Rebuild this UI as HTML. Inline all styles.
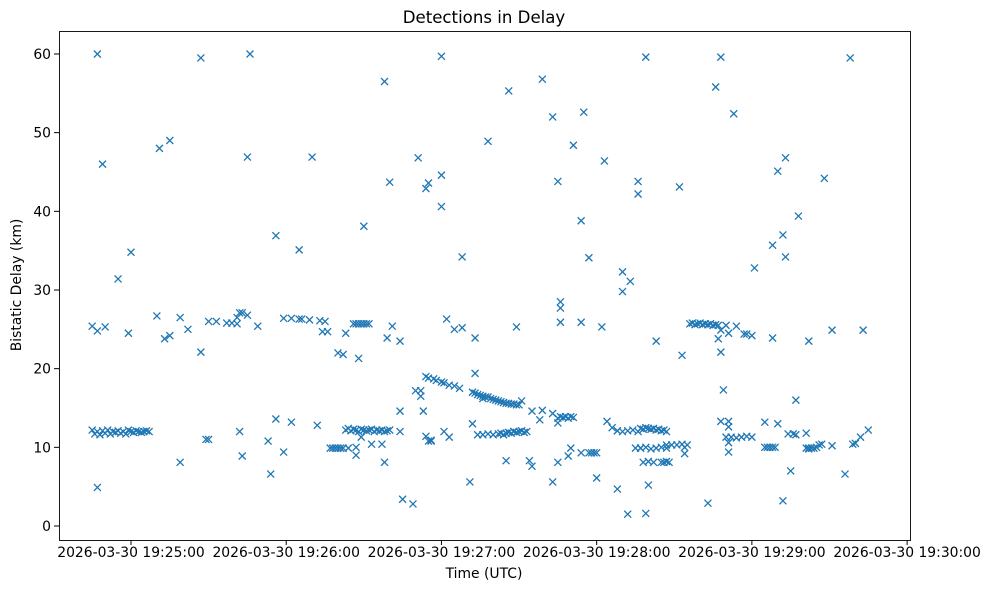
<!DOCTYPE html>
<html><head><meta charset="utf-8"><style>
body{margin:0;background:#fff;}
svg{display:block;font-family:"DejaVu Sans","Liberation Sans",sans-serif;}
</style></head><body>
<svg id="chart" width="989" height="590" viewBox="0 0 989 590" xmlns="http://www.w3.org/2000/svg">
<rect width="989" height="590" fill="#fff"/>
<text x="484" y="23" font-size="16.6" text-anchor="middle">Detections in Delay</text>
<g id="points"></g>
<g id="xaxis"></g>
<g id="yaxis"></g>
<rect x="59.5" y="31.5" width="851" height="509" fill="none" stroke="#000" stroke-width="0.9"/>
<text x="484" y="578" font-size="13.9" text-anchor="middle">Time (UTC)</text>
<text transform="translate(21,285) rotate(-90)" font-size="13.9" text-anchor="middle">Bistatic Delay (km)</text>
</svg>
<script>
// seconds relative to 19:25:00, delay km
const times = [-13,-11,-13,-15,-10,-13,-5,0,-1,
-15,-14,-13,-12,-11,-10,-9,-8,-7,-6,-5,-4,-3,-2,-1,0,1,2,3,4,5,6,7,
10,11,15,13,15,19,22,19,27,27,29,30,30,33,37,39,41,42,43,45,41,42,43,45,46,49,53,54,56,56,59,59,62,62,65,65,66,69,70,72,73,74,75,76,
77,78,79,80,81,82,84,80,82,83,88,86,87,88,89,90,91,92,
83,84,85,86,87,88,89,90,91,92,93,94,95,96,97,98,99,100,
87,87,89,93,97,98,98,101,99,100,90,104,104,104,105,111,109,110,
112,114,115,117,118,120,121,123,125,127,112,114,115,116,116,113,114,115,120,120,120,122,121,123,125,128,128,
131,132,133,134,135,136,137,138,139,140,141,142,143,144,145,146,147,148,149,150,151,136,138,133,133,
132,134,136,138,140,142,143,144,145,146,147,148,149,150,151,152,153,148,149,146,145,154,155,155,159,158,159,163,163,
165,166,167,168,169,170,171,165,165,166,166,166,163,165,169,170,171,174,174,175,177,177,178,179,180,174,180,182,183,184,
186,188,190,192,194,196,197,198,199,200,201,202,203,204,205,206,207,188,188,190,190,192,196,196,199,199,200,203,
193,195,197,199,201,203,205,207,197,198,200,202,205,206,207,208,207,209,211,213,215,212,213,214,214,
216,217,218,219,220,221,222,223,224,225,226,227,223,226,228,228,227,228,230,231,234,237,238,233,229,228,231,231,
230,232,234,236,238,240,231,231,241,240,248,250,245,245,246,247,248,249,250,248,252,252,253,253,255,257,254,256,257,258,262,261,262,
261,262,263,264,265,266,267,268,271,271,276,278,279,280,282,283,285,286];
const delays = [60,46,24.8,25.4,25.3,4.9,31.4,34.8,24.5,
12.2,11.7,12.0,11.6,12.1,11.8,12.2,11.7,12.0,11.9,12.1,11.8,12.0,11.7,12.2,12.0,11.9,12.1,12.0,11.9,12.0,12.1,12.0,
26.7,48,49,23.8,24.2,26.5,25,8.1,59.5,22.1,11,11,26,26,25.8,25.8,26.5,27.1,27.1,26.8,25.7,12,8.9,46.9,60,25.4,10.8,6.6,13.6,36.9,26.4,9.4,26.4,13.2,35.1,26.3,26.3,26.2,46.9,12.8,26.1,24.7,26,24.7,
9.9,9.9,9.9,9.9,9.9,9.9,9.9,22,21.8,24.5,21.3,25.7,25.7,25.7,25.7,25.7,25.7,25.7,
12.2,12.4,12.1,12.3,12.2,12.0,12.3,12.2,12.1,12.2,12.3,12.0,12.2,12.1,12.2,12.0,12.1,12.2,
10.0,9.0,11.3,10.4,10.4,8.1,56.5,25.4,23.9,43.7,38.1,23.5,14.6,12,3.4,46.8,2.8,17.2,
16.5,19,18.8,18.7,18.5,18.3,18.2,17.9,17.8,17.5,17.2,11.4,10.8,10.8,10.9,14.6,42.9,43.6,40.6,44.6,59.7,26.3,12,11.3,25,25.2,34.2,5.6,
17,16.9,16.7,16.6,16.5,16.4,16.4,16.2,16.1,16,15.9,15.8,15.7,15.6,15.6,15.5,15.5,15.4,15.4,15.9,16.2,48.9,19.4,23.9,13,
11.6,11.6,11.7,11.6,11.7,11.8,11.6,11.8,11.9,11.8,12,11.9,12,12.1,11.9,12,12,25.3,55.3,8.3,8.3,7.6,14.6,14.7,13.5,56.8,52,14.3,13.1,
13.9,13.8,13.9,13.7,13.9,13.8,13.7,43.8,28.5,27.7,25.9,5.6,8.1,8.9,9.9,48.4,38.8,25.9,52.6,9.3,34.1,9.3,9.3,9.3,9.3,6.1,25.3,46.4,13.3,12.5,
12.1,12.0,12.1,12.2,12.0,12.4,12.3,12.5,12.4,12.3,12.4,12.2,12.3,12.1,12.2,12.0,12.1,4.7,29.8,32.3,1.5,43.8,42.2,59.6,1.6,5.2,23.5,31.1,
9.9,9.9,10.0,9.8,9.9,10.0,9.9,9.9,8.1,8.2,8.1,8.1,8.1,8.2,8.1,10.3,10.3,10.3,10.4,10.3,43.1,21.7,9.2,10,
25.7,25.8,25.6,25.7,25.8,25.6,25.7,25.6,25.7,25.5,25.6,25.5,2.9,55.8,59.6,24.9,23.8,22.1,25.5,24.5,25.4,24.4,24.4,52.4,17.3,13.3,13.3,12.6,
11.3,11.3,11.2,11.3,11.4,11.3,9.4,10.6,32.8,24.2,35.7,45.1,13.2,10,10,10,10,10,13,23.9,3.2,37,34.2,46.8,7,11.6,11.7,11.7,16,39.4,23.5,11.8,
9.9,9.9,9.8,9.9,9.9,10.0,10.3,10.4,44.2,24.9,10.2,6.6,59.5,10.4,10.5,11.3,24.9,12.2];
const xTickSeconds = [0,60,120,180,240,300];
const xTickLabels = ["2026-03-30 19:25:00","2026-03-30 19:26:00","2026-03-30 19:27:00","2026-03-30 19:28:00","2026-03-30 19:29:00","2026-03-30 19:30:00"];
const yTicks = [0,10,20,30,40,50,60];

const NS="http://www.w3.org/2000/svg";
const xScale = t => 131 + t*2.587;
const yScale = v => 526 - v*7.867;
const pts=document.getElementById('points');
const n=Math.min(times.length,delays.length);
for(let i=0;i<n;i++){
  const x=xScale(times[i]), y=yScale(delays[i]), r=3.5;
  const p=document.createElementNS(NS,'path');
  p.setAttribute('d',`M${x-r},${y-r}L${x+r},${y+r}M${x-r},${y+r}L${x+r},${y-r}`);
  p.setAttribute('stroke','#1f77b4');
  p.setAttribute('stroke-width','1.3');
  
  
  pts.appendChild(p);
}
const xa=document.getElementById('xaxis');
xTickSeconds.forEach((s,i)=>{
  const x=xScale(s);
  const l=document.createElementNS(NS,'line');
  l.setAttribute('x1',x);l.setAttribute('x2',x);l.setAttribute('y1',540);l.setAttribute('y2',545);l.setAttribute('stroke','#000');
  
  
  xa.appendChild(l);
  const t=document.createElementNS(NS,'text');
  t.setAttribute('x',x);t.setAttribute('y',557);t.setAttribute('font-size','13.9');t.setAttribute('text-anchor','middle');
  t.textContent=xTickLabels[i];
  
  
  xa.appendChild(t);
});
const ya=document.getElementById('yaxis');
yTicks.forEach(v=>{
  const y=yScale(v);
  const l=document.createElementNS(NS,'line');
  l.setAttribute('x1',54);l.setAttribute('x2',59);l.setAttribute('y1',y);l.setAttribute('y2',y);l.setAttribute('stroke','#000');
  
  
  ya.appendChild(l);
  const t=document.createElementNS(NS,'text');
  t.setAttribute('x',51);t.setAttribute('y',y+5);t.setAttribute('font-size','13.9');t.setAttribute('text-anchor','end');
  t.textContent=v;
  
  
  ya.appendChild(t);
});
</script>
</body></html>
